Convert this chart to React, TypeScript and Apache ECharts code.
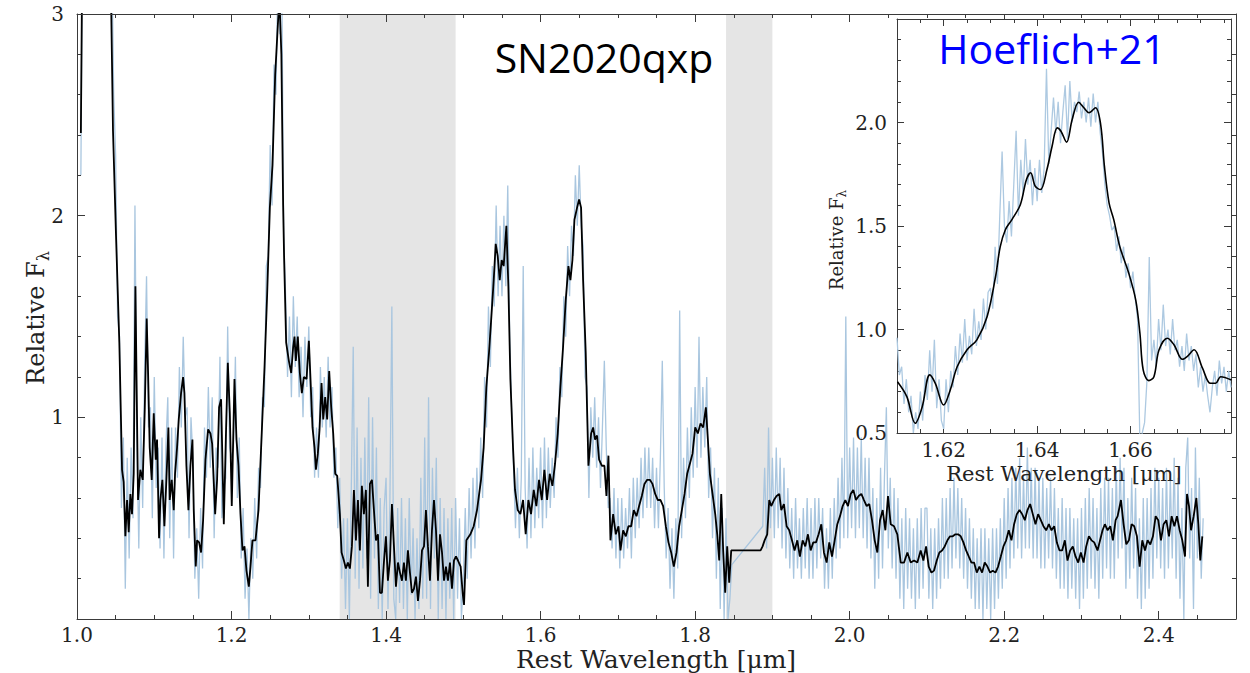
import React, { useEffect, useRef } from 'react';
import * as echarts from 'echarts';

// ---------- main spectrum: smoothed (black) ----------
const blackMain: [number, number][] = [
  [1.005, 2.41], [1.0075, 3.6], [1.04, 3.6], [1.044, 3.1], [1.0466, 2.42], [1.0505, 1.9], [1.0548, 1.37], [1.0583, 0.74],
  [1.0604, 0.68], [1.0626, 0.41], [1.0648, 0.59], [1.0669, 0.43], [1.0691, 0.62], [1.0712, 0.52], [1.0734, 0.72], [1.0756, 1.65],
  [1.079, 0.59], [1.082, 0.74], [1.0851, 0.69], [1.0877, 1.04], [1.0902, 1.49], [1.092, 1.22], [1.0941, 0.85], [1.0967, 0.69],
  [1.0993, 1.02], [1.1019, 0.79], [1.1036, 0.89], [1.1062, 0.4], [1.1079, 0.59], [1.1105, 0.69], [1.1131, 0.46], [1.1157, 0.69],
  [1.1183, 0.95], [1.12, 0.59], [1.1226, 0.69], [1.1252, 0.54], [1.1269, 0.72], [1.1295, 0.85], [1.1317, 0.99], [1.1347, 1.12],
  [1.1373, 1.2], [1.139, 1.12], [1.1416, 0.76], [1.1442, 0.54], [1.1468, 0.76], [1.1494, 0.89], [1.1511, 0.54], [1.1537, 0.26],
  [1.1554, 0.39], [1.158, 0.38], [1.1606, 0.33], [1.1632, 0.49], [1.1662, 0.79], [1.1697, 0.94], [1.1727, 0.92], [1.1749, 0.87],
  [1.1788, 0.52], [1.1813, 0.69], [1.1839, 1.05], [1.1865, 1.09], [1.19, 0.47], [1.1926, 0.89], [1.1952, 1.27], [1.1978, 1.02],
  [1.2003, 0.56], [1.2038, 1.19], [1.2064, 0.89], [1.209, 0.76], [1.2116, 0.52], [1.2142, 0.34], [1.2168, 0.36], [1.2193, 0.24],
  [1.2224, 0.16], [1.2245, 0.26], [1.2271, 0.39], [1.231, 0.39], [1.2349, 0.54], [1.2383, 0.85], [1.2427, 1.25], [1.2461, 1.61],
  [1.2496, 2.04], [1.253, 2.25], [1.2565, 2.7], [1.26, 2.95], [1.262, 3.08], [1.2645, 2.8], [1.2668, 2.05], [1.268, 1.8],
  [1.2707, 1.37], [1.2742, 1.28], [1.2772, 1.22], [1.2798, 1.35], [1.2815, 1.4], [1.2832, 1.28], [1.2858, 1.4], [1.2884, 1.22],
  [1.291, 1.12], [1.2936, 1.2], [1.2971, 1.19], [1.3001, 1.38], [1.3022, 1.19], [1.3048, 0.95], [1.3074, 0.85], [1.3092, 0.74],
  [1.3117, 0.82], [1.3139, 0.94], [1.3165, 1.17], [1.3187, 0.99], [1.3212, 1.1], [1.3238, 0.99], [1.3264, 1.23], [1.329, 1.05],
  [1.3316, 0.92], [1.3342, 0.72], [1.3368, 0.71], [1.3402, 0.52], [1.3424, 0.33], [1.3454, 0.29], [1.348, 0.25], [1.3506, 0.28],
  [1.3532, 0.25], [1.3558, 0.36], [1.3584, 0.64], [1.361, 0.39], [1.3636, 0.59], [1.3661, 0.34], [1.3687, 0.66], [1.3713, 0.52],
  [1.3739, 0.64], [1.3765, 0.16], [1.3791, 0.67], [1.3817, 0.69], [1.3843, 0.54], [1.3869, 0.39], [1.3895, 0.42], [1.3921, 0.13],
  [1.3946, 0.13], [1.3972, 0.28], [1.3998, 0.41], [1.4024, 0.19], [1.405, 0.29], [1.4076, 0.57], [1.4102, 0.36], [1.4128, 0.16],
  [1.4154, 0.28], [1.418, 0.23], [1.4206, 0.19], [1.4231, 0.28], [1.4257, 0.19], [1.4283, 0.34], [1.4309, 0.23], [1.4335, 0.13],
  [1.4361, 0.15], [1.4387, 0.21], [1.4413, 0.09], [1.4439, 0.19], [1.4465, 0.34], [1.4491, 0.36], [1.4516, 0.54], [1.4542, 0.36],
  [1.4568, 0.19], [1.4594, 0.44], [1.462, 0.59], [1.4646, 0.44], [1.4672, 0.19], [1.4698, 0.42], [1.4724, 0.33], [1.475, 0.19],
  [1.4775, 0.26], [1.4801, 0.19], [1.4827, 0.28], [1.4853, 0.15], [1.4879, 0.29], [1.4905, 0.31], [1.4931, 0.29], [1.4965, 0.26],
  [1.4991, 0.13], [1.5009, 0.07], [1.5039, 0.39], [1.5091, 0.42], [1.5134, 0.46], [1.5177, 0.54], [1.5229, 0.69], [1.5263, 0.85],
  [1.5298, 1.15], [1.5332, 1.32], [1.5358, 1.47], [1.5393, 1.68], [1.5419, 1.86], [1.5445, 1.8], [1.5471, 1.68], [1.5496, 1.78],
  [1.5522, 1.75], [1.5557, 1.95], [1.5583, 1.65], [1.5609, 1.19], [1.5643, 0.85], [1.5669, 0.64], [1.5704, 0.54], [1.5738, 0.52],
  [1.5773, 0.59], [1.5807, 0.42], [1.5842, 0.59], [1.5876, 0.52], [1.5911, 0.64], [1.5945, 0.56], [1.598, 0.69], [1.6015, 0.59],
  [1.6049, 0.74], [1.6084, 0.59], [1.6118, 0.72], [1.6153, 0.66], [1.6187, 0.77], [1.6222, 0.92], [1.6256, 1.15], [1.6291, 1.35],
  [1.6325, 1.58], [1.636, 1.75], [1.6386, 1.68], [1.6412, 1.78], [1.6438, 1.98], [1.6472, 2.04], [1.6498, 2.08], [1.6524, 2.04],
  [1.655, 1.68], [1.6584, 1.32], [1.6619, 0.76], [1.6654, 0.92], [1.668, 0.95], [1.6705, 0.89], [1.6731, 0.91], [1.6757, 0.79],
  [1.6792, 0.76], [1.6826, 0.76], [1.6852, 0.61], [1.6878, 0.81], [1.6904, 0.39], [1.6939, 0.52], [1.6973, 0.42], [1.7008, 0.46],
  [1.7034, 0.34], [1.7068, 0.44], [1.7103, 0.41], [1.7137, 0.46], [1.7172, 0.46], [1.7206, 0.54], [1.7241, 0.51], [1.7275, 0.56],
  [1.731, 0.61], [1.7344, 0.67], [1.7379, 0.69], [1.7414, 0.69], [1.7448, 0.67], [1.7483, 0.62], [1.7517, 0.59], [1.7552, 0.59],
  [1.7586, 0.56], [1.7621, 0.46], [1.7655, 0.38], [1.769, 0.33], [1.7724, 0.26], [1.7759, 0.33], [1.7793, 0.46], [1.7828, 0.54],
  [1.7863, 0.62], [1.7897, 0.72], [1.7932, 0.77], [1.7966, 0.82], [1.8001, 0.95], [1.8035, 0.92], [1.807, 0.97], [1.8104, 0.95],
  [1.8139, 1.05], [1.8165, 0.89], [1.8191, 0.72], [1.8225, 0.62], [1.826, 0.52], [1.8286, 0.42], [1.8312, 0.29], [1.8338, 0.62],
  [1.8363, 0.34], [1.8389, 0.13], [1.8415, 0.36], [1.8441, 0.18], [1.8467, 0.34], [1.8847, 0.34], [1.8873, 0.36], [1.8899, 0.39],
  [1.8933, 0.42], [1.8959, 0.59], [1.8985, 0.56], [1.902, 0.59], [1.9054, 0.61], [1.9089, 0.62], [1.9115, 0.54], [1.9149, 0.57],
  [1.9184, 0.46], [1.9218, 0.44], [1.9253, 0.39], [1.9287, 0.34], [1.9322, 0.39], [1.9356, 0.31], [1.9391, 0.39], [1.9426, 0.36],
  [1.946, 0.42], [1.9495, 0.34], [1.9529, 0.38], [1.9564, 0.38], [1.9598, 0.42], [1.9633, 0.47], [1.9667, 0.33], [1.9702, 0.28],
  [1.9736, 0.38], [1.9771, 0.31], [1.9806, 0.39], [1.984, 0.47], [1.9875, 0.51], [1.9909, 0.56], [1.9944, 0.59], [1.9978, 0.56],
  [2.0013, 0.62], [2.0047, 0.64], [2.0082, 0.59], [2.0116, 0.61], [2.0151, 0.62], [2.0185, 0.59], [2.022, 0.56], [2.0254, 0.57],
  [2.0289, 0.49], [2.0324, 0.39], [2.0358, 0.33], [2.0393, 0.49], [2.0427, 0.54], [2.0462, 0.44], [2.0496, 0.61], [2.0531, 0.47],
  [2.0574, 0.46], [2.0617, 0.42], [2.0661, 0.28], [2.0704, 0.28], [2.0747, 0.33], [2.079, 0.28], [2.0833, 0.29], [2.0876, 0.28],
  [2.0919, 0.34], [2.0954, 0.29], [2.0989, 0.36], [2.1023, 0.26], [2.1058, 0.23], [2.1092, 0.24], [2.1127, 0.29], [2.1161, 0.33],
  [2.1196, 0.34], [2.123, 0.36], [2.1265, 0.39], [2.1299, 0.41], [2.1334, 0.41], [2.1368, 0.42], [2.1403, 0.42], [2.1438, 0.41],
  [2.1472, 0.38], [2.1507, 0.34], [2.1541, 0.31], [2.1576, 0.28], [2.161, 0.28], [2.1645, 0.23], [2.1679, 0.26], [2.1714, 0.23],
  [2.1748, 0.28], [2.1783, 0.26], [2.1818, 0.23], [2.1852, 0.24], [2.1887, 0.23], [2.1921, 0.26], [2.1956, 0.31], [2.199, 0.36],
  [2.2025, 0.39], [2.2059, 0.44], [2.2094, 0.39], [2.2128, 0.47], [2.2163, 0.52], [2.2198, 0.54], [2.2232, 0.52], [2.2267, 0.49],
  [2.2301, 0.54], [2.2336, 0.57], [2.237, 0.52], [2.2405, 0.47], [2.2439, 0.52], [2.2474, 0.49], [2.2508, 0.46], [2.2543, 0.44],
  [2.2578, 0.47], [2.2612, 0.44], [2.2647, 0.46], [2.2681, 0.38], [2.2716, 0.34], [2.275, 0.34], [2.2785, 0.39], [2.2819, 0.29],
  [2.2854, 0.34], [2.2888, 0.36], [2.2923, 0.31], [2.2958, 0.28], [2.2992, 0.33], [2.3027, 0.28], [2.3061, 0.36], [2.3096, 0.41],
  [2.313, 0.39], [2.3165, 0.38], [2.3208, 0.34], [2.3273, 0.44], [2.3303, 0.47], [2.3338, 0.44], [2.3373, 0.46], [2.3407, 0.39],
  [2.3442, 0.49], [2.3468, 0.51], [2.3511, 0.59], [2.3545, 0.47], [2.358, 0.37], [2.3614, 0.39], [2.3649, 0.47], [2.3683, 0.46],
  [2.3718, 0.41], [2.3753, 0.26], [2.3787, 0.39], [2.3822, 0.34], [2.3856, 0.39], [2.3891, 0.37], [2.3925, 0.41], [2.396, 0.51],
  [2.3994, 0.49], [2.4029, 0.39], [2.4063, 0.47], [2.4098, 0.49], [2.4133, 0.41], [2.4167, 0.51], [2.4202, 0.46], [2.4236, 0.51],
  [2.4271, 0.44], [2.4305, 0.39], [2.434, 0.31], [2.4366, 0.62], [2.4392, 0.56], [2.4418, 0.44], [2.4452, 0.51], [2.4487, 0.6],
  [2.4513, 0.47], [2.4538, 0.29], [2.4564, 0.41],
];

// ---------- main spectrum: raw (light blue), regular grid ----------
const blueStart = 1.0;
const blueStep = 0.0025;
const blueMain: (number | null)[] = [
  null, null, 2.2, 3.6, 3.6, 3.6, 3.6, 3.6, 3.6, 3.6, 3.6, 3.6, 3.6, 3.6, 3.6, 3.6, 3.6, 3.6, 3.3, 2.6,
  2.3, 1.5, 1.4, 0.55, 0.9, 0.15, 0.8, 0.3, 0.85, 0.5, 2.05, 0.9, 0.35, 1.0, 0.55, 1.25, 1.7, 0.95, 1.05, 0.5,
  1.2, 0.65, 0.85, 0.35, 0.9, 0.3, 0.85, 1.1, 0.4, 0.95, 0.3, 0.95, 0.7, 1.25, 0.95, 1.4, 1.0, 1.05, 0.4, 1.0,
  0.8, 0.2, 0.45, 0.1, 0.55, 0.25, 0.95, 0.7, 1.15, 0.75, 1.1, 0.4, 0.85, 0.75, 1.3, 0.5, 0.65, 0.7, 1.45, 0.85,
  0.8, 0.85, 1.3, 0.6, 0.9, 0.3, 0.55, 0.1, 0.35, 0.0, 0.4, 0.2, 0.6, 0.3, 0.75, 0.65, 1.1, 1.05, 1.75, 1.8,
  2.35, 2.05, 2.75, 2.6, 3.2, 2.9, 3.2, 1.9, 1.6, 1.2, 1.5, 1.1, 1.6, 1.25, 1.5, 1.1, 1.35, 1.0, 1.4, 1.15,
  1.45, 1.0, 1.15, 0.7, 0.95, 0.7, 1.25, 0.95, 1.2, 0.9, 1.3, 0.95, 1.15, 0.7, 0.85, 0.45, 0.7, 0.2, 0.5, 0.05,
  0.5, 0.0, 0.65, 1.35, 0.2, 0.95, 0.15, 0.8, 0.25, 0.9, 0.3, 1.1, 0.1, 1.0, 0.3, 0.85, 0.05, 0.6, 0.0, 0.55,
  0.7, 0.05, 0.6, 1.55, 0.1, 0.0, 0.55, 0.08, 0.6, 0.05, 0.5, 0.0, 0.6, 0.12, 0.45, 0.0, 0.4, 0.05, 0.7, 0.1,
  0.9, 0.1, 1.1, 0.05, 0.75, 0.3, 0.8, 0.0, 0.6, 0.05, 0.55, 0.0, 0.5, 0.1, 0.55, 0.0, 0.6, 0.1, 0.5, 0.0,
  0.2, 0.55, 0.2, 0.65, 0.3, 0.7, 0.35, 0.75, 0.45, 0.9, 0.6, 1.2, 0.95, 1.55, 1.25, 1.75, 1.55, 2.05, 1.6, 1.95,
  1.6, 2.0, 1.65, 2.15, 1.4, 1.05, 0.75, 0.45, 0.75, 0.4, 0.7, 1.75, 0.65, 0.35, 0.8, 0.4, 0.85, 0.45, 0.75, 0.5,
  0.85, 0.45, 0.9, 0.5, 0.85, 0.55, 0.8, 0.6, 1.0, 0.8, 1.25, 1.1, 1.6, 1.4, 1.85, 1.6, 1.95, 1.8, 2.2, 1.95,
  2.25, 1.95, 1.85, 1.2, 1.15, 0.6, 1.05, 0.8, 1.1, 0.75, 1.0, 0.65, 0.95, 1.28, 0.85, 0.55, 0.6, 0.35, 0.65, 0.3,
  0.6, 0.25, 0.6, 0.3, 0.55, 0.35, 0.65, 0.3, 0.7, 0.4, 0.7, 0.45, 0.8, 0.5, 0.85, 0.55, 0.85, 0.55, 0.8, 0.45,
  0.75, 0.45, 0.8, 1.28, 0.65, 0.3, 0.55, 0.15, 0.45, 0.1, 0.5, 0.25, 1.53, 0.4, 0.8, 0.5, 0.95, 0.6, 1.05, 0.7,
  1.15, 0.75, 1.4, 0.8, 1.15, 0.85, 1.2, 0.6, 0.85, 0.4, 0.75, 0.2, 0.7, 0.05, 0.55, 0.0, 0.5, 0.0, 0.1, 0.27,
  null, null, null, null, null, null, null, null, null, null, null, null, null, null, null, 0.46, 0.75, 0.35, 0.95, 0.45,
  0.8, 0.4, 0.85, 0.45, 0.8, 0.35, 0.75, 0.3, 0.65, 0.25, 0.55, 0.2, 0.6, 0.25, 0.5, 0.2, 0.55, 0.25, 0.6, 0.2,
  0.55, 0.2, 0.6, 0.25, 0.6, 0.3, 0.55, 0.15, 0.45, 0.15, 0.55, 0.2, 0.6, 0.3, 0.7, 0.35, 0.8, 0.4, 1.5, 0.4,
  0.85, 0.45, 0.9, 0.4, 0.85, 0.45, 0.9, 0.4, 0.8, 0.35, 0.8, 0.3, 0.65, 0.15, 0.6, 0.2, 0.75, 0.25, 0.7, 1.05,
  0.35, 0.7, 0.25, 0.65, 0.2, 0.6, 0.1, 0.5, 0.05, 0.55, 0.15, 0.5, 0.1, 0.45, 0.05, 0.5, 0.1, 0.55, 0.15, 0.55,
  0.55, 0.1, 0.45, 0.05, 0.45, 0.1, 0.5, 0.15, 0.6, 0.2, 0.6, 0.2, 0.65, 0.25, 0.7, 0.3, 0.65, 0.25, 0.6, 0.2,
  0.55, 0.15, 0.5, 0.1, 0.45, 0.05, 0.4, 0.05, 0.45, 0.0, 0.45, 0.05, 0.4, 0.0, 0.45, 0.05, 0.45, 0.1, 0.5, 0.15,
  0.6, 0.2, 0.65, 0.25, 0.7, 0.3, 0.75, 0.35, 0.8, 0.3, 0.7, 0.35, 0.85, 0.35, 0.75, 0.3, 0.75, 0.3, 0.7, 0.25,
  0.7, 0.25, 0.65, 0.3, 0.7, 0.25, 0.65, 0.2, 0.55, 0.15, 0.6, 0.15, 0.55, 0.1, 0.55, 0.15, 0.5, 0.1, 0.5, 0.05,
  0.55, 0.1, 0.6, 0.15, 0.65, 0.2, 0.6, 0.15, 0.55, 0.1, 0.65, 0.2, 0.7, 0.25, 0.7, 0.2, 0.65, 0.2, 0.75, 0.3,
  0.8, 0.35, 0.75, 0.15, 0.6, 0.2, 0.7, 0.25, 0.65, 0.1, 0.5, 0.05, 0.6, 0.1, 0.6, 0.15, 0.65, 0.2, 0.75, 0.3,
  0.7, 0.25, 0.65, 0.2, 0.75, 0.25, 0.7, 0.3, 0.8, 0.2, 0.7, 0.1, 0.55, 0.0, 0.75, 0.9, 0.3, 0.65, 0.05, 0.85,
  0.3, 0.7, 0.2, 0.5,
];

// ---------- inset (zoom on 1.61-1.68 µm) ----------
const insetBlack: [number, number][] = [
  [1.6101, 0.748], [1.6121, 0.676], [1.6139, 0.547], [1.6154, 0.627], [1.617, 0.781], [1.6182, 0.74], [1.62, 0.635],
  [1.6214, 0.708], [1.6229, 0.821], [1.625, 0.902], [1.6271, 0.95], [1.6293, 1.063], [1.6311, 1.256], [1.6321, 1.4],
  [1.6332, 1.482], [1.6346, 1.531], [1.6364, 1.603], [1.6377, 1.724], [1.6386, 1.757], [1.6396, 1.692], [1.6407, 1.676],
  [1.6421, 1.773], [1.6432, 1.885], [1.6443, 1.974], [1.6451, 1.958], [1.6463, 1.905], [1.6475, 2.015], [1.6489, 2.098],
  [1.65, 2.071], [1.6511, 2.047], [1.6525, 2.071], [1.6536, 1.99], [1.6544, 1.789], [1.6554, 1.611], [1.6564, 1.531],
  [1.6577, 1.4], [1.6596, 1.273], [1.6611, 1.143], [1.662, 0.982], [1.6627, 0.805], [1.6639, 0.753], [1.665, 0.772],
  [1.6661, 0.902], [1.6679, 0.958], [1.6693, 0.926], [1.6711, 0.856], [1.6721, 0.869], [1.6736, 0.902], [1.6754, 0.813],
  [1.6771, 0.74], [1.6782, 0.74], [1.6793, 0.772], [1.6816, 0.756],
];
const insetBlueStart = 1.61;
const insetBlueStep = 0.0005;
const insetBlue: number[] = [
  0.96, 0.78, 0.82, 0.64, 0.76, 0.6, 0.68, 0.5, 0.6, 0.52, 0.7, 0.56, 0.78, 0.66, 0.9, 0.7, 0.95, 0.62, 0.76, 0.56,
  0.52, 0.76, 0.6, 0.8, 0.72, 0.92, 0.78, 0.98, 0.84, 1.05, 0.85, 0.97, 0.88, 1.1, 0.92, 1.04, 0.95, 1.15, 1.0, 1.18,
  1.2, 1.1, 1.4, 1.22, 1.55, 1.86, 1.5, 1.42, 1.62, 1.45, 1.7, 1.96, 1.55, 1.82, 1.65, 1.92, 1.7, 1.82, 1.6, 1.78,
  1.62, 1.82, 1.66, 1.78, 2.26, 1.8, 1.96, 2.12, 1.95, 2.1, 1.9, 2.05, 2.18, 1.92, 2.2, 2.0, 2.1, 2.05, 2.15, 2.02,
  2.1, 2.0, 2.12, 1.98, 2.14, 2.0, 2.1, 1.95, 1.85, 1.7, 1.6, 1.55, 1.48, 1.5, 1.38, 1.45, 1.32, 1.4, 1.25, 1.32,
  1.2, 1.28, 1.15, 1.05, 0.45, 0.5, 0.55, 0.75, 1.35, 0.85, 0.95, 0.82, 1.05, 0.9, 1.12, 0.92, 1.0, 0.88, 1.05, 0.9,
  0.95, 0.82, 0.92, 0.8, 0.98, 0.85, 0.92, 0.8, 0.88, 0.72, 0.82, 0.7, 0.78, 0.68, 0.6, 0.72, 0.8, 0.68, 0.85, 0.74,
  0.82, 0.7, 0.8, 0.72,
];

// ---------- shaded telluric bands & ticks ----------
const bands: [number, number][] = [[1.34, 1.49], [1.84, 1.9]];
const mainXMajor = [1.0, 1.2, 1.4, 1.6, 1.8, 2.0, 2.2, 2.4];
const mainYMajor = [0, 1, 2, 3];
const mainYLabels = [1, 2, 3];
const insetXMajor = [1.62, 1.64, 1.66];
const insetYMajor = [0.5, 1.0, 1.5, 2.0, 2.5];
const insetYLabels = [0.5, 1.0, 1.5, 2.0];
const mainXMinor = Array.from({ length: 31 }, (_, i) => +(1 + i * 0.05).toFixed(2));
const mainYMinor = Array.from({ length: 16 }, (_, i) => +(i * 0.2).toFixed(1));
const insetXMinor = Array.from({ length: 15 }, (_, i) => +(1.61 + i * 0.005).toFixed(3));
const insetYMinor = Array.from({ length: 21 }, (_, i) => +(0.5 + i * 0.1).toFixed(1));

const AX = '#3a3a3a';
const SERIF = '"DejaVu Serif", serif';

type AxOpt = {
  grid: number; pos: string; min: number; max: number; interval: number; ticks: number[]; len: number;
  labels?: number[]; fmt?: (v: number) => string; margin?: number; size?: number; line: boolean; z: number;
};
const makeAxis = (o: AxOpt) => ({
  type: 'value', gridIndex: o.grid, position: o.pos, min: o.min, max: o.max, interval: o.interval, z: o.z,
  axisLine: { show: o.line, onZero: false, lineStyle: { color: AX, width: 1 } },
  axisTick: { show: true, inside: true, length: o.len, lineStyle: { color: AX, width: 1 }, customValues: o.ticks },
  minorTick: { show: false },
  splitLine: { show: false },
  axisLabel: o.labels
    ? { show: true, customValues: o.labels, formatter: o.fmt, margin: o.margin, fontFamily: SERIF, fontSize: o.size, color: '#222', lineHeight: o.size }
    : { show: false },
});

export default function App() {
  const ref = useRef<HTMLDivElement>(null);
  useEffect(() => {
    if (!ref.current) return;
    const chart = echarts.init(ref.current, null, { renderer: 'svg' });
    const bluePts = blueMain
      .map((v, i) => [+(blueStart + i * blueStep).toFixed(4), v] as [number, number | null])
      .filter((p) => p[1] !== null);
    const insetBluePts = insetBlue.map((v, i) => [+(insetBlueStart + i * insetBlueStep).toFixed(4), v]);
    const f1 = (v: number) => v.toFixed(1);
    const f2 = (v: number) => v.toFixed(2);
    const f0 = (v: number) => String(v);
    const M = { min: 1.0, max: 2.5 };
    const MY = { min: 0, max: 3 };
    const I = { min: 1.61, max: 1.6815 };
    const IY = { min: 0.5, max: 2.5 };
    chart.setOption({
      animation: false,
      backgroundColor: '#fff',
      grid: [
        { left: 77, top: 14, width: 1159, height: 605, show: false, outerBoundsMode: 'none' },
        { left: 897, top: 19, width: 334, height: 414, show: true, backgroundColor: '#fff', borderWidth: 0, z: 10, outerBoundsMode: 'none' },
      ],
      xAxis: [
        makeAxis({ grid: 0, pos: 'bottom', ...M, interval: 0.2, ticks: mainXMajor, len: 8, labels: mainXMajor, fmt: f1, margin: 6, size: 20, line: true, z: 4 }),
        makeAxis({ grid: 0, pos: 'bottom', ...M, interval: 0.05, ticks: mainXMinor, len: 4, line: false, z: 4 }),
        makeAxis({ grid: 0, pos: 'top', ...M, interval: 0.2, ticks: mainXMajor, len: 8, line: true, z: 4 }),
        makeAxis({ grid: 0, pos: 'top', ...M, interval: 0.05, ticks: mainXMinor, len: 4, line: false, z: 4 }),
        makeAxis({ grid: 1, pos: 'bottom', ...I, interval: 0.005, ticks: insetXMajor, len: 7, labels: insetXMajor, fmt: f2, margin: 7, size: 20, line: true, z: 11 }),
        makeAxis({ grid: 1, pos: 'bottom', ...I, interval: 0.005, ticks: insetXMinor, len: 4, line: false, z: 11 }),
        makeAxis({ grid: 1, pos: 'top', ...I, interval: 0.005, ticks: insetXMajor, len: 7, line: true, z: 11 }),
        makeAxis({ grid: 1, pos: 'top', ...I, interval: 0.005, ticks: insetXMinor, len: 4, line: false, z: 11 }),
      ],
      yAxis: [
        makeAxis({ grid: 0, pos: 'left', ...MY, interval: 1, ticks: mainYMajor, len: 8, labels: mainYLabels, fmt: f0, margin: 13, size: 20, line: true, z: 4 }),
        makeAxis({ grid: 0, pos: 'left', ...MY, interval: 0.2, ticks: mainYMinor, len: 4, line: false, z: 4 }),
        makeAxis({ grid: 0, pos: 'right', ...MY, interval: 1, ticks: mainYMajor, len: 8, line: true, z: 4 }),
        makeAxis({ grid: 0, pos: 'right', ...MY, interval: 0.2, ticks: mainYMinor, len: 4, line: false, z: 4 }),
        makeAxis({ grid: 1, pos: 'left', ...IY, interval: 0.5, ticks: insetYMajor, len: 7, labels: insetYLabels, fmt: f1, margin: 10, size: 20, line: true, z: 11 }),
        makeAxis({ grid: 1, pos: 'left', ...IY, interval: 0.1, ticks: insetYMinor, len: 4, line: false, z: 11 }),
        makeAxis({ grid: 1, pos: 'right', ...IY, interval: 0.5, ticks: insetYMajor, len: 7, line: true, z: 11 }),
        makeAxis({ grid: 1, pos: 'right', ...IY, interval: 0.1, ticks: insetYMinor, len: 4, line: false, z: 11 }),
      ],
      series: [
        {
          type: 'line', xAxisIndex: 0, yAxisIndex: 0, data: bluePts, showSymbol: false, symbol: 'none', silent: true, z: 2,
          lineStyle: { color: '#a9c6df', width: 1.3 },
          markArea: {
            silent: true, z: 1,
            itemStyle: { color: '#e5e5e5' },
            data: bands.map(([a, b]) => [{ xAxis: a }, { xAxis: b }]),
          },
        },
        {
          type: 'line', xAxisIndex: 0, yAxisIndex: 0, data: blackMain, showSymbol: false, symbol: 'none', silent: true, z: 3,
          lineStyle: { color: '#000', width: 1.8 },
        },
        {
          type: 'line', xAxisIndex: 4, yAxisIndex: 4, data: insetBluePts, showSymbol: false, symbol: 'none', silent: true, z: 12,
          lineStyle: { color: '#adc9e1', width: 1.3 },
        },
        {
          type: 'line', xAxisIndex: 4, yAxisIndex: 4, data: insetBlack, showSymbol: false, symbol: 'none', silent: true, z: 13,
          smooth: 0.35, lineStyle: { color: '#000', width: 1.6 },
        },
      ],
      graphic: [
        { type: 'text', x: 604, y: 57, z: 100, style: { text: 'SN2020qxp', fontFamily: '"Open Sans", sans-serif', fontSize: 41, fill: '#000', align: 'center', verticalAlign: 'middle' } },
        { type: 'text', x: 1052, y: 48, z: 100, style: { text: 'Hoeflich+21', fontFamily: '"Open Sans", sans-serif', fontSize: 41, fill: '#0000ff', align: 'center', verticalAlign: 'middle' } },
        { type: 'text', x: 656, y: 659, z: 100, style: { text: 'Rest Wavelength [μm]', fontFamily: SERIF, fontSize: 25, lineHeight: 25, fill: '#222', align: 'center', verticalAlign: 'middle' } },
        {
          type: 'text', x: 36, y: 318, rotation: Math.PI / 2, z: 100,
          style: {
            text: '{a|Relative F}{b|λ}', align: 'center', verticalAlign: 'middle',
            rich: { a: { fontFamily: SERIF, fontSize: 24, fill: '#222', lineHeight: 30 }, b: { fontFamily: SERIF, fontSize: 16, fill: '#222', verticalAlign: 'bottom' } },
          },
        },
        { type: 'text', x: 1064, y: 474, z: 100, style: { text: 'Rest Wavelength [μm]', fontFamily: SERIF, fontSize: 21, lineHeight: 21, fill: '#222', align: 'center', verticalAlign: 'middle' } },
        {
          type: 'text', x: 836, y: 240, rotation: Math.PI / 2, z: 100,
          style: {
            text: '{a|Relative F}{b|λ}', align: 'center', verticalAlign: 'middle',
            rich: { a: { fontFamily: SERIF, fontSize: 18, fill: '#222', lineHeight: 24 }, b: { fontFamily: SERIF, fontSize: 12, fill: '#222', verticalAlign: 'bottom' } },
          },
        },
      ],
    });
    return () => chart.dispose();
  }, []);
  return <div ref={ref} style={{ position: 'fixed', left: 0, top: 0, width: 1250, height: 673, background: '#fff' }} />;
}
